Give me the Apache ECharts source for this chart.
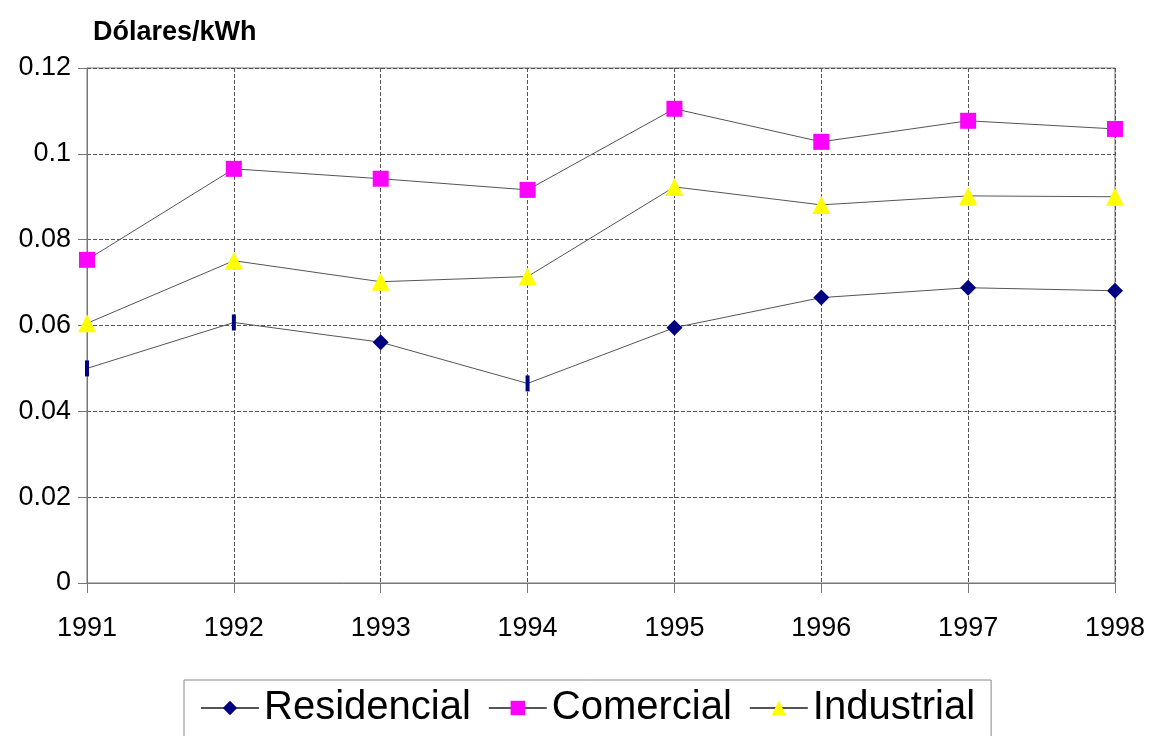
<!DOCTYPE html>
<html>
<head>
<meta charset="utf-8">
<script src="https://cdn.jsdelivr.net/npm/echarts@6/dist/echarts.min.js"></script>
<style>
  html, body { margin: 0; padding: 0; background: #fff; }
  #chart { width: 1151px; height: 736px; }
</style>
</head>
<body>
<div id="chart"></div>
<script>
// datos
const years = ['1991', '1992', '1993', '1994', '1995', '1996', '1997', '1998'];
const residencial = [0.0500, 0.0607, 0.0561, 0.0465, 0.0595, 0.0665, 0.0688, 0.0681];
const comercial = [0.0753, 0.0965, 0.0942, 0.0916, 0.1105, 0.1028, 0.1077, 0.1058];
const industrial = [0.0605, 0.0751, 0.0702, 0.0714, 0.0923, 0.0881, 0.0902, 0.0900];

// en el original algunos rombos salen aplastados como barritas
const thinMarks = [0, 1, 3];

const chart = echarts.init(document.getElementById('chart'));
const font = 'Liberation Sans, Arial, sans-serif';
const lineGray = '#555';

const option = {
  animation: false,
  backgroundColor: '#fff',
  title: {
    text: 'Dólares/kWh',
    left: 88,
    top: 14,
    textStyle: { fontFamily: font, fontSize: 27, fontWeight: 'bold', color: '#000' }
  },
  grid: {
    left: 87,
    right: 36,
    top: 68,
    bottom: 153,
    show: true,
    borderColor: '#777',
    borderWidth: 1
  },
  legend: {
    top: 680,
    left: 184,
    width: 811,
    padding: [8, 16, 30, 16],
    borderColor: '#888',
    borderWidth: 1,
    itemWidth: 58,
    itemHeight: 18,
    itemGap: 17,
    textStyle: { fontFamily: font, fontSize: 40, color: '#000' },
    data: ['Residencial', 'Comercial', 'Industrial']
  },
  xAxis: {
    type: 'category',
    boundaryGap: false,
    data: years,
    axisLine: { lineStyle: { color: '#777', width: 1 } },
    axisTick: { length: 10, lineStyle: { color: '#777' } },
    axisLabel: { fontFamily: font, fontSize: 27, color: '#000', margin: 32 },
    splitLine: { show: true, lineStyle: { color: '#555', type: [4, 2], width: 1 } }
  },
  yAxis: {
    type: 'value',
    min: 0,
    max: 0.12,
    interval: 0.02,
    axisLine: { show: true, lineStyle: { color: '#777', width: 1 } },
    axisTick: { show: true, length: 9, lineStyle: { color: '#777' } },
    axisLabel: { fontFamily: font, fontSize: 27, color: '#000', margin: 16 },
    splitLine: { show: true, lineStyle: { color: '#555', type: [4, 2], width: 1 } }
  },
  series: [
    {
      name: 'Residencial',
      type: 'line',
      symbol: 'diamond',
      symbolSize: 16,
      color: '#000080',
      itemStyle: { color: '#000080' },
      lineStyle: { color: lineGray, width: 1 },
      data: residencial.map((v, i) => thinMarks.includes(i)
        ? { value: v, symbol: 'rect', symbolSize: [4, 16] }
        : v)
    },
    {
      name: 'Comercial',
      type: 'line',
      symbol: 'rect',
      symbolSize: 16,
      color: '#ff00ff',
      itemStyle: { color: '#ff00ff' },
      lineStyle: { color: lineGray, width: 1 },
      data: comercial
    },
    {
      name: 'Industrial',
      type: 'line',
      symbol: 'triangle',
      symbolSize: 18,
      color: '#ffff00',
      itemStyle: { color: '#ffff00' },
      lineStyle: { color: lineGray, width: 1 },
      data: industrial
    }
  ]
};

chart.setOption(option);
</script>
</body>
</html>
